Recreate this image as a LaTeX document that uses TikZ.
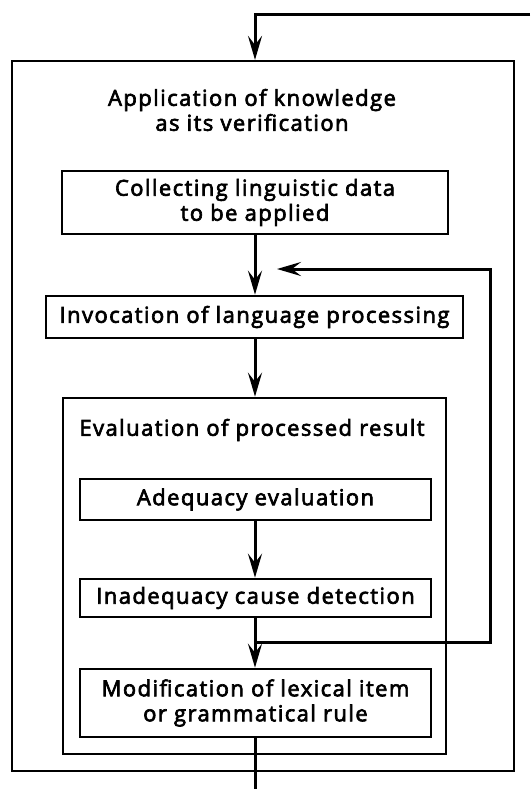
\documentclass[tikz,border=0pt]{standalone}
\usepackage{fontspec}
\setmainfont{Open Sans}[FakeBold=3,LetterSpace=6.5]
\usetikzlibrary{arrows.meta,calc}
\begin{document}
\begin{tikzpicture}[x=1pt,y=-1pt,
  font=\fontsize{22}{25}\selectfont,
  box/.style={draw,line width=2.6pt,inner sep=0pt,align=center},
  flow/.style={line width=3pt,-{Stealth[length=24pt,width=14pt,inset=9pt]}},
  plain/.style={line width=3pt}]
\useasboundingbox (0,0) rectangle (530,789);
% frames
\node[box,line width=2.2pt,minimum width=502pt,minimum height=710pt] (outer) at (263,416) {};
\node[box,minimum width=383pt,minimum height=356pt] (eval) at (254.5,576) {};
% titles of the frames
\node[align=center] (outertitle) at (252,110) {Application of knowledge\\as its verification};
\node (evaltitle) at (252,430) {Evaluation of processed result};
% steps
\node[box,minimum width=386pt,minimum height=63pt] (collect) at (255,202.5) {Collecting linguistic data\\to be applied};
\node[box,minimum width=417pt,minimum height=42pt] (invoc) at (254.5,317) {Invocation of language processing};
\node[box,minimum width=351pt,minimum height=41pt] (adeq) at (255.5,499.5) {Adequacy evaluation};
\node[box,minimum width=351pt,minimum height=38pt] (inad) at (255.5,598) {Inadequacy cause detection};
\node[box,minimum width=351pt,minimum height=68pt] (modif) at (255.5,703) {Modification of lexical item\\or grammatical rule};
% loose ends and corners
\coordinate (entry) at (530,15);
\coordinate (entrydown) at (255,15);
\coordinate (exit) at (255,789);
\coordinate (fbjoin) at (255,642);
\coordinate (fbb) at (490,642);
\coordinate (fbt) at (490,269);
\coordinate (fbin) at (277,269);
% connectors
\draw[flow] (entry) -- (entrydown) -- (entrydown |- outer.north);
\draw[flow] (entrydown |- collect.south) -- (entrydown |- invoc.north);
\draw[flow] (entrydown |- invoc.south) -- (entrydown |- eval.north);
\draw[flow] (entrydown |- adeq.south) -- (entrydown |- inad.north);
\draw[flow] (entrydown |- inad.south) -- (entrydown |- modif.north);
\draw[plain] (entrydown |- modif.south) -- (exit);
\draw[flow] (fbjoin) -- (fbb) -- (fbt) -- (fbin);
\end{tikzpicture}
\end{document}
